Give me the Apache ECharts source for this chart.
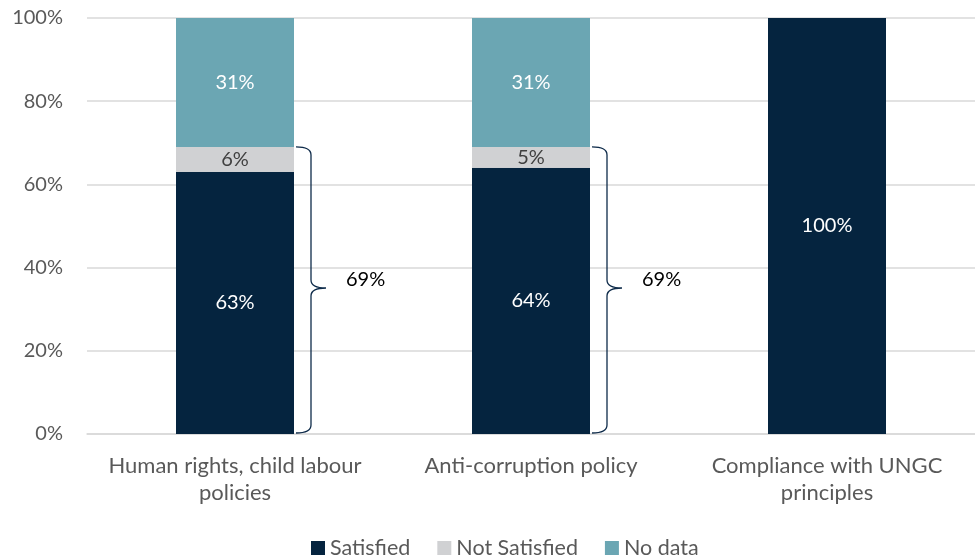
<!DOCTYPE html>
<html><head><meta charset="utf-8">
<script src="https://cdn.jsdelivr.net/npm/echarts@6/dist/echarts.min.js"></script>
<style>html,body{margin:0;padding:0;background:#fff}#c{width:975px;height:560px}</style>
</head><body><div id="c"></div>
<script>
const categories = ["Human rights, child labour\npolicies", "Anti-corruption policy", "Compliance with UNGC\nprinciples"];
const satisfied = [63, 64, 100];
const notSatisfied = [6, 5, 0];
const noData = [31, 31, 0];
const braceTotals = [69, 69, null];
const braceLabels = ["69%", "69%", ""];
const yTicks = [0, 20, 40, 60, 80, 100];

const FONT = "Lato, 'Open Sans', sans-serif";
const chart = echarts.init(document.getElementById('c'), null, {renderer: 'canvas'});

function lbl(color) {
  return {show: true, position: 'inside', color: color, fontFamily: FONT, fontSize: 20,
    formatter: p => p.value > 0 ? p.value + '%' : ''};
}

chart.setOption({
  animation: false,
  grid: {left: 87, right: 0, top: 18, bottom: 126, containLabel: false},
  legend: {
    top: 532, left: 306, itemWidth: 14, itemHeight: 14, itemGap: 27,
    icon: 'rect',
    textStyle: {color: '#595959', fontFamily: FONT, fontSize: 21.5},
    data: ['Satisfied', 'Not Satisfied', 'No data']
  },
  xAxis: {
    type: 'category', data: categories,
    axisLine: {show: true, lineStyle: {color: '#D9D9D9', width: 1.5}},
    axisTick: {show: false},
    axisLabel: {color: '#595959', fontFamily: FONT, fontSize: 22, lineHeight: 27, margin: 18, interval: 0}
  },
  yAxis: {
    type: 'value', min: 0, max: 100, interval: 20,
    axisLine: {show: false}, axisTick: {show: false},
    splitLine: {lineStyle: {color: '#D9D9D9', width: 1.5}},
    axisLabel: {color: '#595959', fontFamily: FONT, fontSize: 20, margin: 24,
      formatter: v => yTicks.includes(v) ? v + '%' : ''}
  },
  series: [
    {name: 'Satisfied', type: 'bar', stack: 's', data: satisfied, barWidth: 118,
      itemStyle: {color: '#05243F'}, label: lbl('#FFFFFF')},
    {name: 'Not Satisfied', type: 'bar', stack: 's', data: notSatisfied, barWidth: 118,
      itemStyle: {color: '#D0D1D3'}, label: lbl('#404040')},
    {name: 'No data', type: 'bar', stack: 's', data: noData, barWidth: 118,
      itemStyle: {color: '#6BA6B3'}, label: lbl('#FFFFFF')},
    {
      name: 'brace', type: 'custom', silent: true, z: 5,
      data: braceTotals.map((v, i) => [i, v]),
      renderItem: function (params, api) {
        const v = api.value(1);
        if (v == null || isNaN(v)) return null;
        const idx = api.value(0);
        const top = api.coord([idx, v]);
        const bot = api.coord([idx, 0]);
        const half = 59;
        const x0 = top[0] + half + 2;
        const x1 = x0 + 15;
        const x2 = x0 + 30;
        const yT = top[1], yB = bot[1] - 1, yM = (yT + yB) / 2 - 2;
        const r = 8;
        const path = `M${x0} ${yT} Q${x1} ${yT} ${x1} ${yT + r} L${x1} ${yM - r} Q${x1} ${yM} ${x2} ${yM} ` +
          `Q${x1} ${yM} ${x1} ${yM + r} L${x1} ${yB - r} Q${x1} ${yB} ${x0} ${yB}`;
        return {
          type: 'group',
          children: [
            {type: 'path', shape: {pathData: path},
              style: {fill: null, stroke: '#0E2B4A', lineWidth: 1.3}},
            {type: 'text', x: x2 + 20, y: yM - 8,
              style: {text: braceLabels[idx], fill: '#000000', font: '20px ' + FONT,
                textAlign: 'left', textVerticalAlign: 'middle'}}
          ]
        };
      }
    }
  ]
});
</script></body></html>
